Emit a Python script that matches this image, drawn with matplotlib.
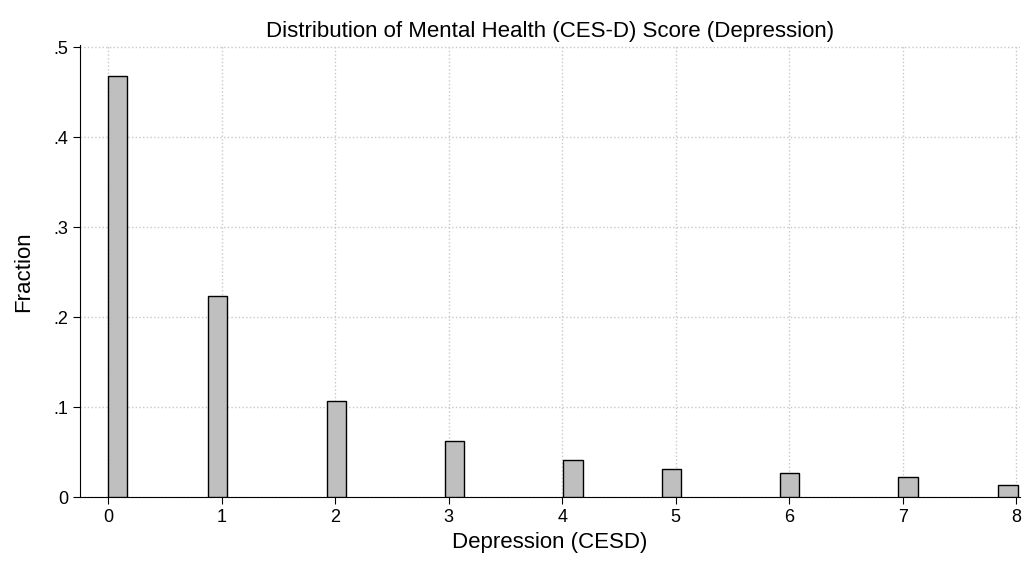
import matplotlib.pyplot as plt
import numpy as np

plt.rcParams['font.family'] = ['Liberation Sans', 'DejaVu Sans']

# left edges of histogram bins and their fractions
bin_left = [0.0, 0.877, 1.93, 2.965, 4.01, 4.88, 5.92, 6.96, 7.84]
fraction = [0.468, 0.224, 0.107, 0.062, 0.041, 0.031, 0.027, 0.022, 0.014]
bin_width = 0.17

fig = plt.figure(figsize=(10.28, 5.67), dpi=100)
ax = fig.add_axes([0.078, 0.123, 0.914, 0.797])

ax.bar(bin_left, fraction, width=bin_width, align='edge',
       color='#bfbfbf', edgecolor='black', linewidth=1, zorder=3)

ax.set_xlim(-0.245, 8.03)
ax.set_ylim(0, 0.502)
ax.set_xticks(range(9))
ax.set_yticks([0, 0.1, 0.2, 0.3, 0.4, 0.5])
ax.set_yticklabels(['0', '.1', '.2', '.3', '.4', '.5'])
ax.grid(True, linestyle=':', color='#c8c8c8', linewidth=1, zorder=0)
for s in ['top', 'right']:
    ax.spines[s].set_visible(False)
ax.tick_params(labelsize=13, length=5)

ax.set_xlabel('Depression (CESD)', fontsize=16)
ax.set_ylabel('Fraction', fontsize=16, labelpad=14)
ax.set_title('Distribution of Mental Health (CES-D) Score (Depression)', fontsize=16)

fig.savefig('out.png', dpi=100)
